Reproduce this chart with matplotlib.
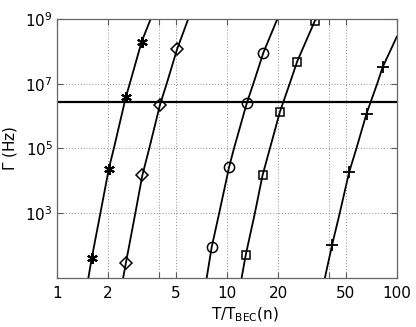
import matplotlib
matplotlib.use("Agg")
import matplotlib.pyplot as plt
from matplotlib.ticker import FixedLocator, NullLocator, FixedFormatter

# ---- data ----
# theory curves
ast_curve_x = [1.53, 1.60, 1.80, 2.02, 2.16, 2.54, 2.68, 3.15, 3.56]
ast_curve_y = [1e1, 40, 1e3, 2.4e4, 1e5, 3.8e6, 1e7, 2.0e8, 1e9]
dia_curve_x = [2.45, 2.54, 2.89, 3.18, 3.49, 4.04, 4.42, 5.1, 5.92]
dia_curve_y = [1e1, 28, 1e3, 1.5e4, 1e5, 2.26e6, 1e7, 1.2e8, 1e9]
cir_curve_x = [7.6, 8.13, 9.0, 10.3, 11.0, 13.1, 14.3, 16.4, 19.8]
cir_curve_y = [1e1, 88, 1e3, 2.66e4, 1e5, 2.55e6, 1e7, 9.2e7, 1e9]
sq_curve_x = [12.2, 12.9, 14.6, 16.2, 17.9, 20.5, 23.4, 25.9, 32.9, 33.7]
sq_curve_y = [1e1, 51, 1e3, 1.48e4, 1e5, 1.35e6, 1e7, 4.85e7, 8.7e8, 1e9]
plus_curve_x = [37.7, 41.6, 46.1, 52.4, 57.8, 66.3, 76.6, 82.4, 100.0]
plus_curve_y = [1e1, 106, 1e3, 1.87e4, 1e5, 1.19e6, 1e7, 3.2e7, 2.85e8]

# measured markers
ast_x = [1.60, 2.02, 2.54, 3.15]
ast_y = [40, 2.4e4, 3.8e6, 2.0e8]
dia_x = [2.54, 3.18, 4.04, 5.1]
dia_y = [28, 1.5e4, 2.26e6, 1.2e8]
cir_x = [8.13, 10.3, 13.1, 16.4]
cir_y = [88, 2.66e4, 2.55e6, 9.2e7]
sq_x = [12.9, 16.2, 20.5, 25.9, 32.9]
sq_y = [51, 1.48e4, 1.35e6, 4.85e7, 8.7e8]
plus_x = [41.6, 52.4, 66.3, 82.4]
plus_y = [106, 1.87e4, 1.19e6, 3.2e7]

hline_y = 2.66e6

xticks = [1, 2, 4, 5, 10, 20, 40, 50, 100]
xticklabels = ['1', '2', '', '5', '10', '20', '', '50', '100']
yticks = [1e3, 1e5, 1e7, 1e9]
yticklabels = [r'$10^3$', r'$10^5$', r'$10^7$', r'$10^9$']

fig = plt.figure(figsize=(4.16, 3.27), dpi=100)
ax = fig.add_axes([0.137, 0.150, 0.817, 0.792])

lw = 1.3
for cx, cy in [(ast_curve_x, ast_curve_y), (dia_curve_x, dia_curve_y),
               (cir_curve_x, cir_curve_y), (sq_curve_x, sq_curve_y),
               (plus_curve_x, plus_curve_y)]:
    ax.plot(cx, cy, color='k', lw=lw, solid_joinstyle='round')
ax.axhline(hline_y, color='k', lw=1.6)

ms = 7
ax.plot(ast_x, ast_y, ls='none', marker=(6, 2, 0), ms=ms * 1.1, mec='k', mew=1.5)
ax.plot(dia_x, dia_y, ls='none', marker='D', ms=ms * 0.85, mfc='none', mec='k', mew=1.1)
ax.plot(cir_x, cir_y, ls='none', marker='o', ms=ms * 1.05, mfc='none', mec='k', mew=1.1)
ax.plot(sq_x, sq_y, ls='none', marker='s', ms=ms * 0.8, mfc='none', mec='k', mew=1.1)
ax.plot(plus_x, plus_y, ls='none', marker='+', ms=ms * 1.3, mec='k', mew=1.3)

ax.set_xscale('log')
ax.set_yscale('log')
ax.set_xlim(1, 100)
ax.set_ylim(1e1, 1e9)

ax.xaxis.set_major_locator(FixedLocator(xticks))
ax.xaxis.set_major_formatter(FixedFormatter(xticklabels))
ax.xaxis.set_minor_locator(NullLocator())
ax.yaxis.set_major_locator(FixedLocator(yticks))
ax.yaxis.set_major_formatter(FixedFormatter(yticklabels))
ax.yaxis.set_minor_locator(NullLocator())

ax.grid(True, which='major', color='0.55', lw=0.7, ls=(0, (1, 2)))
ax.tick_params(direction='in', top=True, right=True, length=4, width=0.8,
               color='0.35', labelsize=11)
ax.tick_params(axis='y', pad=3)
ax.tick_params(axis='x', pad=6)
for s in ax.spines.values():
    s.set_color('0.4')
    s.set_linewidth(0.9)

ax.set_xlabel(r'T/T$_{\mathrm{BEC}}$(n)', fontsize=11)
ax.xaxis.set_label_coords(0.553, -0.105, transform=ax.transAxes)
ax.xaxis.label.set_va('top')
ax.set_ylabel(r'$\Gamma$ (Hz)', fontsize=11)
ax.yaxis.set_label_coords(-0.112, 0.5, transform=ax.transAxes)

fig.savefig('out.png', dpi=100)
